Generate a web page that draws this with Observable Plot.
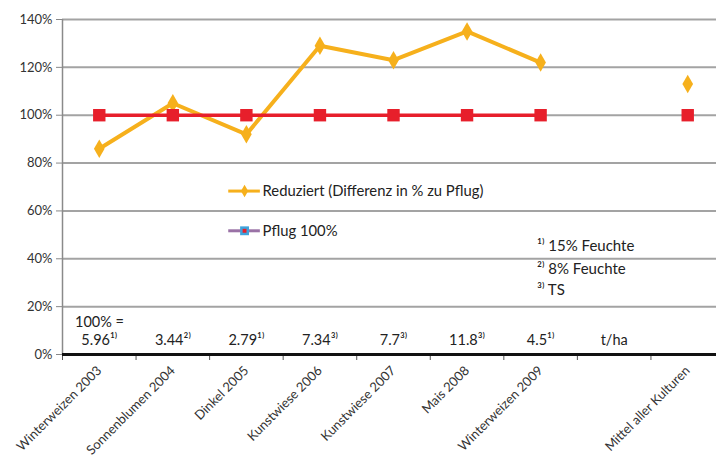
<!DOCTYPE html>
<html><head><meta charset="utf-8">
<script src="https://cdn.jsdelivr.net/npm/d3@7"></script>
<script src="https://cdn.jsdelivr.net/npm/@observablehq/plot@0.6"></script>
<style>body{margin:0;background:#fff}</style>
</head><body><div id="chart"></div>
<script>
const categories = ["Winterweizen 2003", "Sonnenblumen 2004", "Dinkel 2005", "Kunstwiese 2006", "Kunstwiese 2007", "Mais 2008", "Winterweizen 2009", "", "Mittel aller Kulturen"];
const reduziert = [86, 105, 92, 129, 123, 135, 122, null, 113];
const pflug = [100, 100, 100, 100, 100, 100, 100, null, 100];
const ertrag = ["5.96¹⁾", "3.44²⁾", "2.79¹⁾", "7.34³⁾", "7.7³⁾", "11.8³⁾", "4.5¹⁾", "t/ha", ""];
const footnotes = ["¹⁾ 15% Feuchte", "²⁾ 8% Feuchte", "³⁾ TS"];
const legendLabels = ["Reduziert (Differenz in % zu Pflug)", "Pflug 100%"];
const yTicks = [0, 20, 40, 60, 80, 100, 120, 140];

const idx = categories.map((c, i) => i);
const bounds = categories.map((c, i) => i - 0.5).concat([categories.length - 0.5]);
const rows = categories.map((c, i) => ({i, c, red: reduziert[i], pfl: pflug[i], ertrag: ertrag[i]}));
const orange = "#f6b01c", red = "#e71f2b";
const font = "Lato, 'Open Sans', sans-serif";

const chart = Plot.plot({
  width: 716, height: 465,
  marginLeft: 62, marginRight: 0, marginTop: 19, marginBottom: 111,
  style: {fontFamily: font, fontSize: "13px", overflow: "hidden", background: "#fff", color: "#222"},
  x: {domain: [-0.5, 8.5], range: [62, 724], label: null},
  y: {domain: [0, 140], range: [354, 19], label: null},
  marks: [
    Plot.ruleY(yTicks.filter(d => d > 0), {stroke: "#a3a3a3", strokeWidth: 2}),
    Plot.ruleX([-0.5], {y1: 0, y2: 140, stroke: "#8a8a8a", strokeWidth: 1.5}),
    Plot.axisY({ticks: yTicks, tickFormat: d => d + "%", tickSize: 6, tickPadding: 4, stroke: "#888", fill: "#333", fontSize: 13}),
    Plot.axisX({ticks: bounds, tickFormat: () => "", tickSize: 6, stroke: "#555"}),
    Plot.axisX({ticks: idx, tickFormat: i => categories[i], tickSize: 0, tickPadding: 14, tickRotate: -45, fill: "#333", fontSize: 13}),
    Plot.ruleY([0], {stroke: "#111", strokeWidth: 3}),
    Plot.line(rows, {x: "i", y: "red", stroke: orange, strokeWidth: 4}),
    Plot.line(rows, {x: "i", y: "pfl", stroke: red, strokeWidth: 3.5}),
    Plot.dot(rows.filter(r => r.red != null), {x: "i", y: "red", symbol: "diamond", r: 5.6, fill: orange}),
    Plot.dot(rows.filter(r => r.pfl != null), {x: "i", y: "pfl", symbol: "square", r: 7, fill: red}),
    // legend
    Plot.ruleY([68.3], {x1: 1.76, x2: 2.19, stroke: orange, strokeWidth: 3}),
    Plot.dot([68.3], {x: 1.975, y: d => d, symbol: "diamond", r: 3.8, fill: orange}),
    Plot.ruleY([51.7], {x1: 1.76, x2: 2.19, stroke: "#9a72a6", strokeWidth: 3}),
    Plot.dot([51.7], {x: 1.975, y: d => d, symbol: "square", r: 5, fill: "#3fa3dc"}),
    Plot.dot([51.7], {x: 1.975, y: d => d, symbol: "square", r: 2.2, fill: red}),
    Plot.text(legendLabels, {x: 2.22, y: [68.3, 51.7], textAnchor: "start", fontSize: 14.8, fill: "#222"}),
    // footnotes
    Plot.text(footnotes, {x: 5.95, y: [45.4, 35.8, 27], textAnchor: "start", fontSize: 15, fill: "#222"}),
    // yields
    Plot.text(["100% ="], {x: -0.33, y: 13.3, textAnchor: "start", fontSize: 14.5, fill: "#222"}),
    Plot.text(rows, {x: "i", y: 5.8, text: "ertrag", textAnchor: "middle", fontSize: 14.5, fill: "#222"})
  ]
});
document.getElementById("chart").append(chart);
</script></body></html>
